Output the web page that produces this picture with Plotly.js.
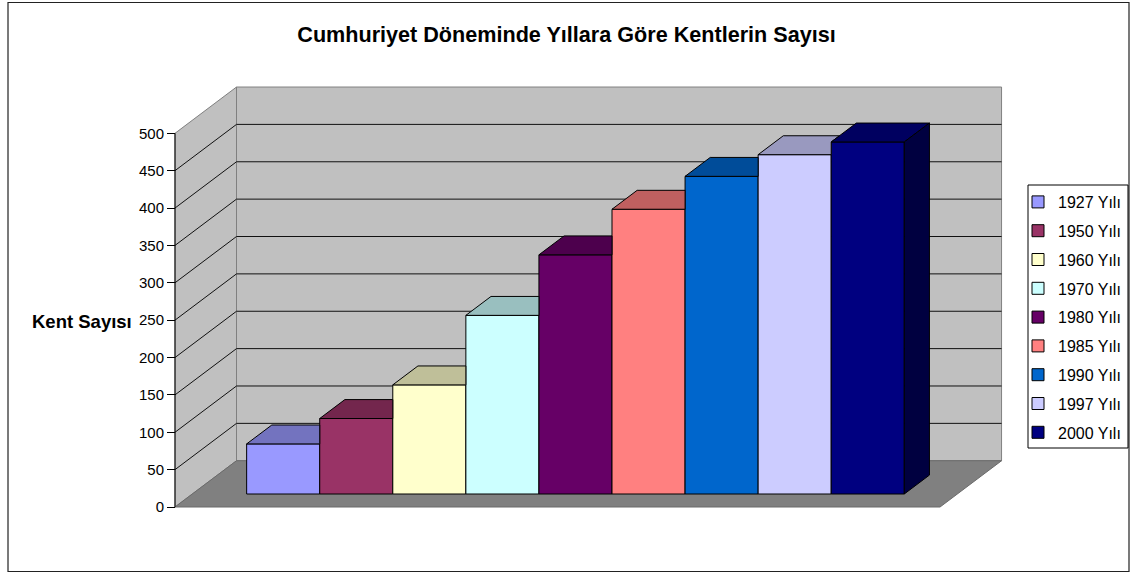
<!DOCTYPE html>
<html>
<head>
<meta charset="utf-8">
<script src="https://cdn.plot.ly/plotly-3.0.1.min.js"></script>
<style>
  html, body { margin: 0; padding: 0; background: #fff; }
  #chart { width: 1136px; height: 575px; }
</style>
</head>
<body>
<div id="chart"></div>
<script>
// ---- data ----
const years = ['1927 Yılı', '1950 Yılı', '1960 Yılı', '1970 Yılı', '1980 Yılı', '1985 Yılı', '1990 Yılı', '1997 Yılı', '2000 Yılı'];
const counts = [67, 101, 146, 239, 320, 381, 425, 454, 471];
const frontColors = ['#9999FF', '#993366', '#FFFFCC', '#CCFFFF', '#660066', '#FF8080', '#0066CC', '#CCCCFF', '#000080'];
const topColors = ['#7373BF', '#73264D', '#BFBF99', '#99BFBF', '#4D004D', '#BF6060', '#004C99', '#9999BF', '#000060'];
const sideColors = ['#4D4D80', '#4D1933', '#808066', '#668080', '#330033', '#804040', '#003366', '#666680', '#000040'];
const tickValues = [0, 50, 100, 150, 200, 250, 300, 350, 400, 450, 500];
const chartTitle = 'Cumhuriyet Döneminde Yıllara Göre Kentlerin Sayısı';
const axisTitle = 'Kent Sayısı';

// ---- 3D look (oblique projection) ----
const DX = 0.8417, DY = 61.9;      // full depth offset (x units, value units)
const FLOOR_W = 10.47;              // floor width in category units
const GAP = 0.744;                  // gap between side wall and first bar
const BAR_FRONT = 0.281, BAR_DEPTH = 0.409;
const VMAX = tickValues[tickValues.length - 1];

const bx = BAR_FRONT * DX, by = BAR_FRONT * DY;   // shift of bar front faces
const bdx = BAR_DEPTH * DX, bdy = BAR_DEPTH * DY; // bar depth

const traces = [];
// front faces as bars
years.forEach((yr, i) => {
  traces.push({
    type: 'bar', name: yr, legendgroup: yr,
    x: [GAP + i + 0.5 + bx], y: [counts[i]], base: [by], width: [1],
    marker: { color: frontColors[i], line: { color: '#000', width: 1 } },
    hoverinfo: 'skip'
  });
});
// top faces (visible parts) and last side face
years.forEach((yr, i) => {
  const x0 = GAP + i + bx;
  const fy = by + counts[i];
  const backY = fy + bdy;
  const xs = [x0, x0 + 1], ys = [fy, fy];
  if (i < years.length - 1) {
    const nextTop = by + counts[i + 1];
    if (nextTop < backY) {
      xs.push(x0 + 1); ys.push(nextTop);
      xs.push(x0 + 1 + (backY - nextTop) / bdy * bdx); ys.push(backY);
    } else {
      xs.push(x0 + 1); ys.push(backY);
    }
  } else {
    xs.push(x0 + 1 + bdx); ys.push(backY);
  }
  xs.push(x0 + bdx, x0); ys.push(backY, fy);
  traces.push({
    type: 'scatter', mode: 'lines', x: xs, y: ys, fill: 'toself',
    fillcolor: topColors[i], line: { color: '#000', width: 1 },
    showlegend: false, hoverinfo: 'skip'
  });
  if (i === years.length - 1) {
    traces.push({
      type: 'scatter', mode: 'lines',
      x: [x0 + 1, x0 + 1, x0 + 1 + bdx, x0 + 1 + bdx, x0 + 1],
      y: [by, fy, backY, by + bdy, by],
      fill: 'toself', fillcolor: sideColors[i], line: { color: '#000', width: 1 },
      showlegend: false, hoverinfo: 'skip'
    });
  }
});

// ---- walls, floor and gridlines as shapes ----
const shapes = [];
shapes.push({ type: 'path', layer: 'below', xref: 'x', yref: 'y',
  path: `M${DX},${DY} L${DX + FLOOR_W},${DY} L${DX + FLOOR_W},${VMAX + DY} L${DX},${VMAX + DY} Z`,
  fillcolor: '#C0C0C0', line: { color: '#808080', width: 1 } });
shapes.push({ type: 'path', layer: 'below', xref: 'x', yref: 'y',
  path: `M0,0 L0,${VMAX} L${DX},${VMAX + DY} L${DX},${DY} Z`,
  fillcolor: '#C0C0C0', line: { color: '#808080', width: 1 } });
shapes.push({ type: 'path', layer: 'below', xref: 'x', yref: 'y',
  path: `M0,0 L${FLOOR_W},0 L${FLOOR_W + DX},${DY} L${DX},${DY} Z`,
  fillcolor: '#808080', line: { color: '#6a6a6a', width: 1 } });
tickValues.forEach(t => {
  if (t === 0 || t === VMAX) return;
  shapes.push({ type: 'line', layer: 'below', xref: 'x', yref: 'y',
    x0: DX, y0: t + DY, x1: DX + FLOOR_W, y1: t + DY, line: { color: '#111', width: 1 } });
  shapes.push({ type: 'line', layer: 'below', xref: 'x', yref: 'y',
    x0: 0, y0: t, x1: DX, y1: t + DY, line: { color: '#111', width: 1 } });
});
shapes.push({ type: 'line', layer: 'below', xref: 'x', yref: 'y',
  x0: 0, y0: 0, x1: 0, y1: VMAX, line: { color: '#000', width: 1 } });
// outer chart border
shapes.push({ type: 'rect', xref: 'paper', yref: 'paper',
  x0: -0.17882, x1: 1.14, y0: -0.1325, y1: 1.1786,
  line: { color: '#222', width: 1.2 }, fillcolor: 'rgba(0,0,0,0)' });
// legend frame
shapes.push({ type: 'rect', xref: 'paper', yref: 'paper',
  x0: 1.02118, x1: 1.13882, y0: 0.15207, y1: 0.75806,
  line: { color: '#000', width: 1 }, fillcolor: '#fff' });

const font = 'Liberation Sans, Arial, sans-serif';
const layout = {
  width: 1136, height: 575, autosize: false,
  margin: { l: 160, r: 126, t: 80, b: 61, pad: 0 },
  paper_bgcolor: '#fff', plot_bgcolor: 'rgba(0,0,0,0)',
  barmode: 'overlay', hovermode: false,
  title: { text: chartTitle, xref: 'container', x: 566.5 / 1136, xanchor: 'center',
    yref: 'container', y: 1 - 34 / 575, yanchor: 'middle',
    font: { family: font, size: 21.6, weight: 'bold', color: '#000' } },
  xaxis: { range: [-0.20528, 11.4274], visible: false, fixedrange: true },
  yaxis: { range: [-9.366, 571.31], anchor: 'free', position: 15 / 850, side: 'left',
    tickvals: tickValues, ticks: 'outside', ticklen: 8, tickcolor: '#000', tickwidth: 1,
    showgrid: false, zeroline: false, showline: false, fixedrange: true,
    tickfont: { family: font, size: 15, color: '#000' } },
  legend: { xref: 'container', yref: 'container', x: 1018 / 1136, y: 1 - 185 / 575,
    xanchor: 'left', yanchor: 'top',
    borderwidth: 0, bgcolor: 'rgba(0,0,0,0)',
    font: { family: font, size: 16, color: '#000' },
    tracegroupgap: 5, itemwidth: 30, traceorder: 'grouped' },
  annotations: [{ text: axisTitle, xref: 'paper', yref: 'paper', x: -0.0306, y: 0.4424,
    xanchor: 'right', yanchor: 'middle', showarrow: false,
    font: { family: font, size: 18.5, weight: 'bold', color: '#000' } }],
  shapes: shapes
};
Plotly.newPlot('chart', traces, layout, { displayModeBar: false, staticPlot: true });
</script>
</body>
</html>
